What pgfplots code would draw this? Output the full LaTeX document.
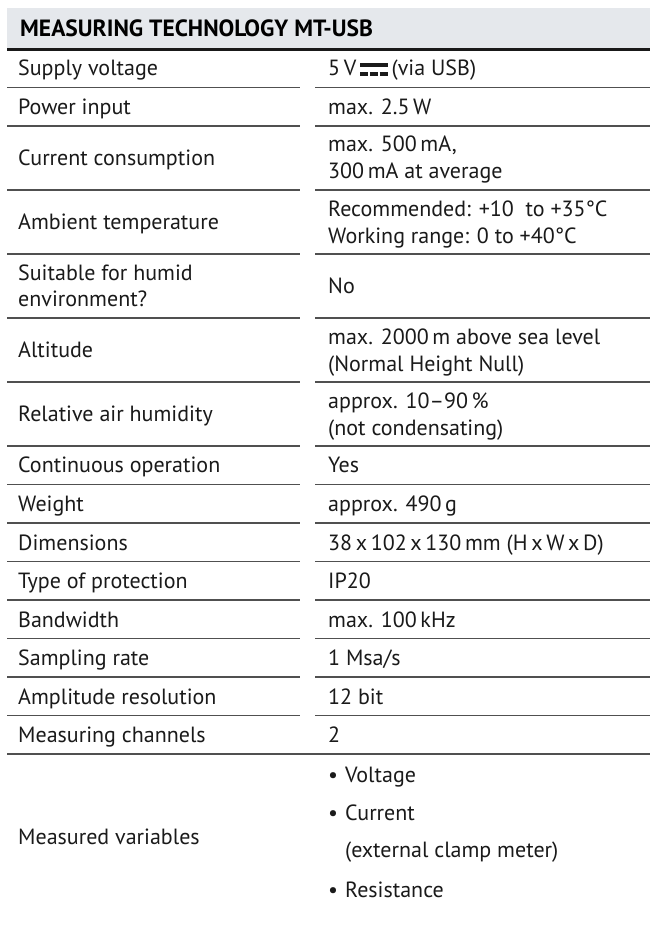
\documentclass[border=0pt]{standalone}
\usepackage{fontspec}
\setmainfont{PT Sans}
\usepackage{pgfplots}
\pgfplotsset{compat=1.18}
\definecolor{hdr}{HTML}{E5E8EC}
\definecolor{rulec}{HTML}{505050}
\definecolor{txt}{HTML}{1A1A1A}
\newcommand{\fs}{\fontsize{22bp}{26bp}\selectfont\color{txt}}
\newcommand{\fh}{\fontsize{23.5bp}{27bp}\selectfont\bfseries\color{black}}
\newcommand{\dc}{\makebox[28bp][l]{\rule[9bp]{28bp}{4bp}\hspace{-28bp}\rule{8.4bp}{4bp}\hspace{1.4bp}\rule{8.4bp}{4bp}\hspace{1.4bp}\rule{8.4bp}{4bp}}}
\begin{document}
\begin{tikzpicture}
\begin{axis}[width=650bp,height=934bp,scale only axis,
  xmin=0,xmax=650,ymin=0,ymax=934,y dir=reverse,hide axis,clip=false]
\fill[white] (axis cs:0,0) rectangle (axis cs:650,934);
\fill[hdr] (axis cs:7,8) rectangle (axis cs:650,49);
\addplot[draw=black!90, line width=3bp] coordinates {(7,49.5) (650,49.5)};
\pgfplotsinvokeforeach{87.5,126,190,254,318,382,446,484.5,523,561.5,600,638.5,677,715.5}{
  \addplot[draw=rulec, line width=1.6bp] coordinates {(7,#1) (300,#1)};
  \addplot[draw=rulec, line width=1.6bp] coordinates {(315,#1) (650,#1)};
}
\addplot[draw=rulec, line width=1.6bp] coordinates {(7,754) (650,754)};
% header
\node[anchor=base west,inner sep=0,font=\fh] at (axis cs:20,37) {MEASURING TECHNOLOGY MT-USB};
% left column
\begin{scope}[every node/.style={anchor=base west,inner sep=0,font=\fs}]
\node at (axis cs:18,76) {Supply voltage};
\node at (axis cs:18,114.5) {Power input};
\node at (axis cs:18,165.5) {Current consumption};
\node at (axis cs:18,229.5) {Ambient temperature};
\node at (axis cs:18,280) {Suitable for humid};
\node at (axis cs:18,306) {environment?};
\node at (axis cs:18,357.5) {Altitude};
\node at (axis cs:18,421.5) {Relative air humidity};
\node at (axis cs:18,472.5) {Continuous operation};
\node at (axis cs:18,511) {Weight};
\node at (axis cs:18,550) {Dimensions};
\node at (axis cs:18,588.5) {Type of protection};
\node at (axis cs:18,627) {Bandwidth};
\node at (axis cs:18,665.5) {Sampling rate};
\node at (axis cs:18,704) {Amplitude resolution};
\node at (axis cs:18,742.5) {Measuring channels};
\node at (axis cs:18,844) {Measured variables};
% right column
\node at (axis cs:328,76) {5\,V\,\dc\,(via USB)};
\node at (axis cs:328,114.5) {max. 2.5\,W};
\node at (axis cs:328,152) {max. 500\,mA,};
\node at (axis cs:328,179) {300\,mA at average};
\node at (axis cs:328,216) {Recommended: +10\ \ to +35°C};
\node at (axis cs:328,243) {Working range: 0 to +40°C};
\node at (axis cs:328,293.5) {No};
\node at (axis cs:328,344) {max. 2000\,m above sea level};
\node at (axis cs:328,371) {(Normal Height Null)};
\node at (axis cs:328,408) {approx. 10–90\,\%};
\node at (axis cs:328,435) {(not condensating)};
\node at (axis cs:328,472.5) {Yes};
\node at (axis cs:328,511) {approx. 490\,g};
\node at (axis cs:328,550) {38\,x\,102\,x\,130\,mm (H\,x\,W\,x\,D)};
\node at (axis cs:328,588.5) {IP20};
\node at (axis cs:328,627) {max. 100\,kHz};
\node at (axis cs:328,665.5) {1 Msa/s};
\node at (axis cs:328,704) {12 bit};
\node at (axis cs:328,742.5) {2};
\node at (axis cs:328,782) {•};
\node at (axis cs:345,782) {Voltage};
\node at (axis cs:328,820) {•};
\node at (axis cs:345,820) {Current};
\node at (axis cs:345,857) {(external clamp meter)};
\node at (axis cs:328,897) {•};
\node at (axis cs:345,897) {Resistance};
\end{scope}
\end{axis}
\end{tikzpicture}
\end{document}
